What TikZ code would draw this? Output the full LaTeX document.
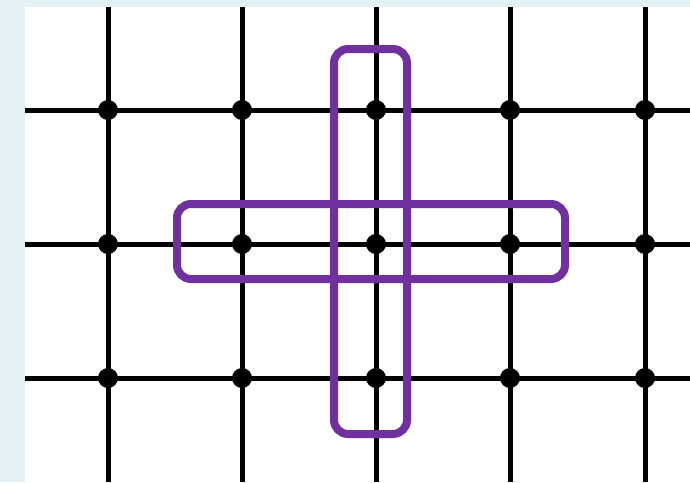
\documentclass[tikz,border=0pt]{standalone}
\begin{document}
\begin{tikzpicture}[x=1pt,y=-1pt,
  gridline/.style={line width=5pt,black},
  dot/.style={circle,fill=black,inner sep=0pt,minimum size=20pt},
  plaq/.style={line width=8pt,draw=plum,rounded corners=14pt}]
\definecolor{plum}{HTML}{7030A0}
\definecolor{bgblue}{HTML}{E4F1F7}
\useasboundingbox (0,0) rectangle (690,482);
\fill[bgblue] (0,0) rectangle (690,482);
\fill[white] (25,7) rectangle (690,482);
% horizontal lines
\foreach \y [count=\j] in {110,244,378} {
  \coordinate (hl\j) at (25,\y);
  \coordinate (hr\j) at (690,\y);
  \draw[gridline] (hl\j) -- (hr\j);
}
% vertical lines
\foreach \x [count=\i] in {108,242,376,510,645} {
  \coordinate (vt\i) at (\x,7);
  \coordinate (vb\i) at (\x,482);
  \draw[gridline] (vt\i) -- (vb\i);
}
% dots
\foreach \x [count=\i] in {108,242,376,510,645} {
  \foreach \y [count=\j] in {110,244,378} {
    \node[dot] (d\i\j) at (\x,\y) {};
  }
}
% plaquettes
\draw[plaq] (334,49) rectangle (407,434);
\draw[plaq] (177,204) rectangle (565,279);
\end{tikzpicture}
\end{document}
